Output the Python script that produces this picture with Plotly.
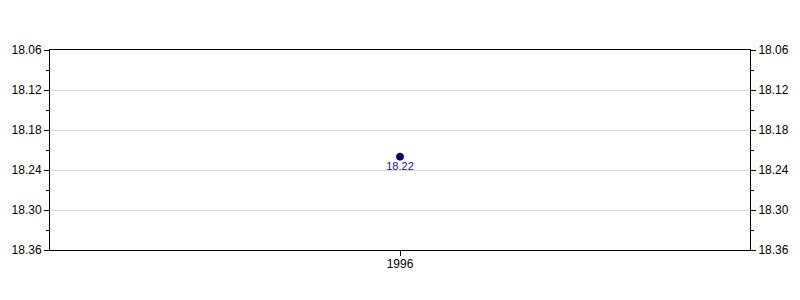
import plotly.graph_objects as go

years = [1996]
values = [18.22]
labels = ["18.22"]
y_ticks = [18.06, 18.12, 18.18, 18.24, 18.30, 18.36]
y_tick_text = ["18.06", "18.12", "18.18", "18.24", "18.30", "18.36"]

fig = go.Figure()
fig.add_trace(go.Scatter(
    x=years, y=values, mode="markers+text", text=labels,
    textposition="bottom center",
    textfont=dict(family="Liberation Sans, Arial", size=11, color="#10109a"),
    marker=dict(size=7, color="#00008B", line=dict(color="#000050", width=1)),
    showlegend=False, cliponaxis=False,
))
fig.add_trace(go.Scatter(
    x=years, y=values, mode="markers", yaxis="y2",
    marker=dict(size=7, opacity=0), showlegend=False, hoverinfo="skip",
))

yax = dict(
    range=[18.36, 18.06], tickvals=y_ticks, ticktext=y_tick_text,
    ticks="outside", ticklen=5, tickcolor="black", showline=True,
    linecolor="black", linewidth=1, zeroline=False,
    tickfont=dict(family="Liberation Sans, Arial", size=12, color="black"),
    minor=dict(dtick=0.03, tick0=18.06, ticks="outside", ticklen=3,
               tickcolor="black", showgrid=False),
)

fig.update_layout(
    width=800, height=300,
    margin=dict(l=50, r=50, t=50, b=50),
    paper_bgcolor="white", plot_bgcolor="white",
    xaxis=dict(
        range=[1995, 1997], tickvals=years, ticktext=[str(y) for y in years],
        ticks="outside", ticklen=5, tickcolor="black", showgrid=False,
        showline=True, linecolor="black", linewidth=1, mirror=True,
        zeroline=False, ticklabelstandoff=-2,
        tickfont=dict(family="Liberation Sans, Arial", size=12, color="black"),
    ),
    yaxis=dict(**yax, side="left", showgrid=True, gridcolor="#d9d9d9", gridwidth=1),
    yaxis2=dict(**yax, side="right", overlaying="y", showgrid=False),
)

fig.write_html("out.html")
